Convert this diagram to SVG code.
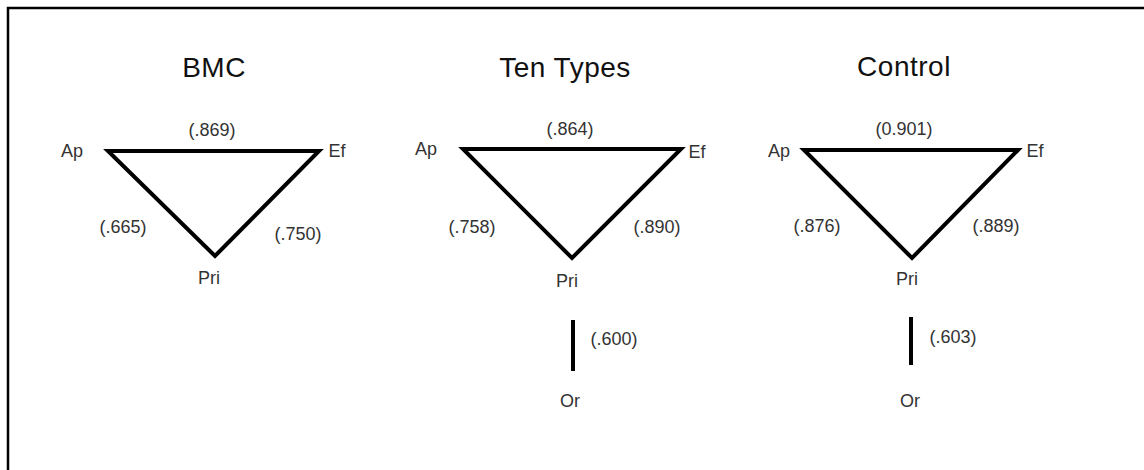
<svg xmlns="http://www.w3.org/2000/svg" width="1144" height="470" viewBox="0 0 1144 470">
  <style>
    .title { font-family: "Liberation Sans", Arial, sans-serif; font-size: 28px; fill: #111; text-anchor: middle; letter-spacing: 0.5px; }
    .lbl { font-family: "Liberation Sans", Arial, sans-serif; font-size: 18px; fill: #333; text-anchor: middle; }
    .edge { stroke: #000; stroke-width: 4; fill: none; stroke-linecap: butt; stroke-linejoin: miter; }
    .frame { stroke: #000; stroke-width: 2.5; fill: none; }
  </style>
  <rect width="1144" height="470" fill="#fff"/>
  <!-- outer frame, open to the right and bottom -->
  <path class="frame" d="M1144 8 H8 V470"/>

  <!-- panel titles -->
  <text class="title" x="214" y="77">BMC</text>
  <text class="title" x="565" y="77">Ten Types</text>
  <text class="title" x="904" y="76">Control</text>

  <!-- connectors -->
  <g id="connectors">
    <path class="edge" d="M108 151 H319 L215 256 Z"/>
    <path class="edge" d="M463 149 H681 L572 258 Z"/>
    <line class="edge" x1="573" y1="320" x2="573" y2="371"/>
    <path class="edge" d="M804 150 H1018 L912 258 Z"/>
    <line class="edge" x1="911" y1="317" x2="911" y2="365"/>
  </g>

  <!-- edge weights -->
  <g id="weights">
    <text class="lbl" x="212" y="136">(.869)</text>
    <text class="lbl" x="123" y="233">(.665)</text>
    <text class="lbl" x="298" y="240">(.750)</text>
    <text class="lbl" x="570" y="135">(.864)</text>
    <text class="lbl" x="472" y="233">(.758)</text>
    <text class="lbl" x="657" y="233">(.890)</text>
    <text class="lbl" x="614" y="345">(.600)</text>
    <text class="lbl" x="904" y="135">(0.901)</text>
    <text class="lbl" x="817" y="232">(.876)</text>
    <text class="lbl" x="996" y="232">(.889)</text>
    <text class="lbl" x="953" y="343">(.603)</text>
  </g>

  <!-- BMC nodes -->
  <g id="bmc-ap"><text class="lbl" x="72" y="157">Ap</text></g>
  <g id="bmc-ef"><text class="lbl" x="337" y="157">Ef</text></g>
  <g id="bmc-pri"><text class="lbl" x="209" y="284">Pri</text></g>

  <!-- Ten Types nodes -->
  <g id="tt-ap"><text class="lbl" x="426" y="155">Ap</text></g>
  <g id="tt-ef"><text class="lbl" x="697" y="158">Ef</text></g>
  <g id="tt-pri"><text class="lbl" x="567" y="287">Pri</text></g>
  <g id="tt-or"><text class="lbl" x="570" y="407">Or</text></g>

  <!-- Control nodes -->
  <g id="ctl-ap"><text class="lbl" x="779" y="157">Ap</text></g>
  <g id="ctl-ef"><text class="lbl" x="1035" y="157">Ef</text></g>
  <g id="ctl-pri"><text class="lbl" x="907" y="285">Pri</text></g>
  <g id="ctl-or"><text class="lbl" x="910" y="407">Or</text></g>
</svg>
